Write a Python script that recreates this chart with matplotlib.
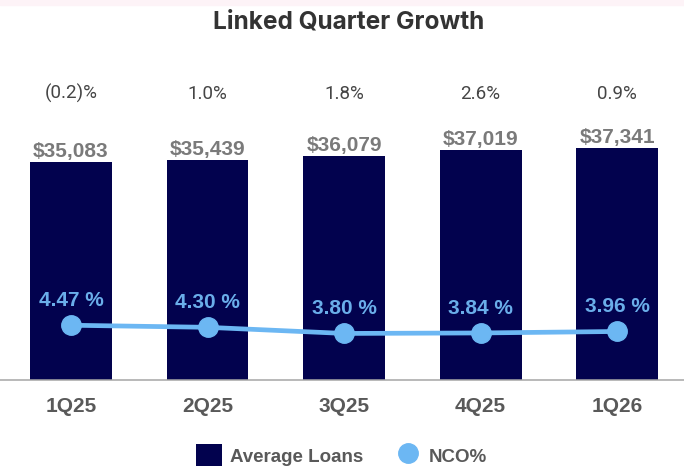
import matplotlib.pyplot as plt
from matplotlib.patches import Patch, Rectangle
from matplotlib.lines import Line2D
import matplotlib.transforms as mtransforms

quarters = ['1Q25', '2Q25', '3Q25', '4Q25', '1Q26']
avg_loans = [35083, 35439, 36079, 37019, 37341]
nco_pct = [4.47, 4.30, 3.80, 3.84, 3.96]
growth_labels = ['(0.2)%', '1.0%', '1.8%', '2.6%', '0.9%']

NAVY = '#02024e'
SKY = '#6cb7f3'
GRAY = '#595959'

fig = plt.figure(figsize=(6.84, 4.67), dpi=100)
fig.patches.append(Rectangle((0, 0.99), 1, 0.01, transform=fig.transFigure,
                             color='#fdf3f7', zorder=0))

ax = fig.add_axes([0.0, 0.1863, 1.0, 0.728])
x = list(range(len(quarters)))
bars = ax.bar(x, avg_loans, width=0.6, color=NAVY, zorder=2)
ax.set_xlim(-0.52, 4.49)
ax.set_ylim(0, 54700)

for rect, v in zip(bars, avg_loans):
    ax.annotate(f'${v:,}', (rect.get_x() + rect.get_width() / 2, v),
                xytext=(0, 3.6), textcoords='offset points',
                ha='center', va='baseline', fontsize=15, fontweight='bold',
                color='#7a7a7a', family='Liberation Sans')

# growth row sits above the bars in axes-fraction height
trans = mtransforms.blended_transform_factory(ax.transData, ax.transAxes)
for xi, g in zip(x, growth_labels):
    ax.text(xi, 0.8265, g, transform=trans, ha='center', va='baseline',
            fontsize=13.5, color='#454545', family='Roboto')

ax.set_xticks(x)
ax.set_xticklabels(quarters, fontsize=15, fontweight='bold', color=GRAY,
                   family='Liberation Sans')
ax.tick_params(axis='x', length=0, pad=12)
ax.set_yticks([])
for s in ['top', 'left', 'right']:
    ax.spines[s].set_visible(False)
ax.spines['bottom'].set_color('#a6a6a6')
ax.spines['bottom'].set_linewidth(1.1)

ax2 = ax.twinx()
ax2.set_ylim(0, 27.75)
ax2.plot(x, nco_pct, color=SKY, linewidth=3.4, marker='o', markersize=14,
         zorder=3)
for xi, v in zip(x, nco_pct):
    ax2.annotate(f'{v:.2f} %', (xi, v), xytext=(0, 14), textcoords='offset points',
                 ha='center', va='baseline', fontsize=15, fontweight='bold',
                 color='#6aaeea', family='Liberation Sans')
ax2.set_yticks([])
for s in ['top', 'left', 'right', 'bottom']:
    ax2.spines[s].set_visible(False)

fig.text(0.509, 0.94, 'Linked Quarter Growth', ha='center', va='baseline',
         fontsize=17.6, fontweight='bold', color='#333333', family='Inter')

handles = [Patch(facecolor=NAVY, label='Average Loans'),
           Line2D([0], [0], color=SKY, marker='o', markersize=14, linewidth=0,
                  label='NCO%')]
fig.legend(handles=handles, loc='center', bbox_to_anchor=(0.499, 0.025),
           ncol=2, frameon=False, handlelength=1.4, handleheight=1.4,
           handletextpad=0.4, columnspacing=1.7, borderpad=0.0,
           prop={'size': 13.5, 'weight': 'bold', 'family': 'Liberation Sans'},
           labelcolor=GRAY)

fig.savefig('out.png', dpi=100)
